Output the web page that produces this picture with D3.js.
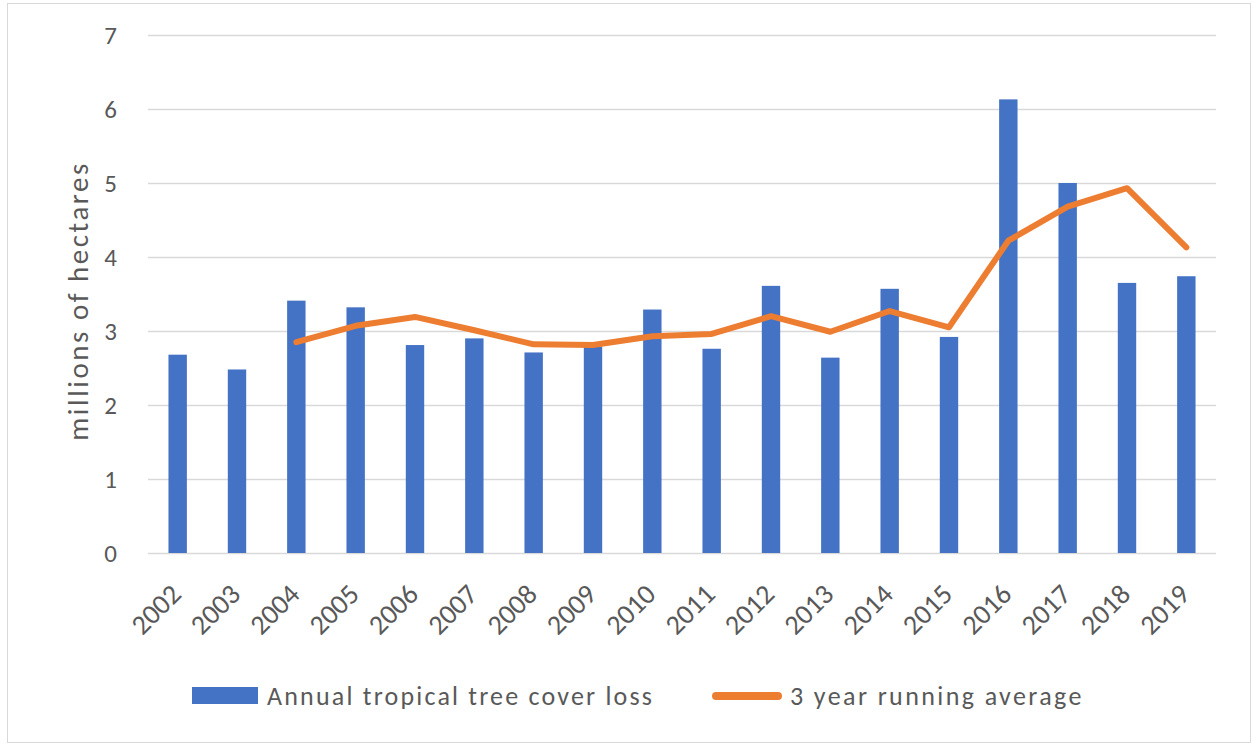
<!DOCTYPE html>
<html>
<head>
<meta charset="utf-8">
<script src="https://cdn.jsdelivr.net/npm/d3@7"></script>
<style>
  html, body { margin: 0; padding: 0; background: #ffffff; }
  svg { display: block; }
  text { font-family: Carlito, Calibri, Lato, "Open Sans", sans-serif; fill: #595959; }
</style>
</head>
<body>
<svg id="chart" width="1253" height="745"></svg>
<script>
const years = ["2002","2003","2004","2005","2006","2007","2008","2009","2010","2011","2012","2013","2014","2015","2016","2017","2018","2019"];
const annualLoss = [2.68, 2.48, 3.41, 3.32, 2.81, 2.90, 2.71, 2.79, 3.29, 2.76, 3.61, 2.64, 3.57, 2.92, 6.13, 5.00, 3.65, 3.74];
const runningAvg = [null, null, 2.85, 3.07, 3.19, 3.01, 2.82, 2.81, 2.93, 2.96, 3.20, 2.99, 3.27, 3.05, 4.22, 4.68, 4.93, 4.13];
const yTicks = [0, 1, 2, 3, 4, 5, 6, 7];
const seriesNames = ["Annual tropical tree cover loss", "3 year running average"];
const yTitle = "millions of hectares";

const svg = d3.select("#chart");
const m = { left: 148, right: 1216, top: 35, bottom: 553 };
const blue = "#4472C4", orange = "#ED7D31", grid = "#d9d9d9";

// outer chart border
svg.append("rect")
  .attr("x", 7.5).attr("y", 3.5).attr("width", 1243).attr("height", 739)
  .attr("fill", "#fff").attr("stroke", "#d9d9d9").attr("stroke-width", 1);

const x = d3.scaleBand().domain(years).range([m.left, m.right]).paddingInner(0.69).paddingOuter(0.345);
const y = d3.scaleLinear().domain([0, 7]).range([m.bottom, m.top]);

// gridlines + y labels
const yAxis = d3.axisLeft(y).tickValues(yTicks).tickSize(-(m.right - m.left)).tickPadding(31).tickFormat(d3.format("d"));
const gy = svg.append("g").attr("transform", `translate(${m.left},0)`).call(yAxis);
gy.select(".domain").remove();
gy.selectAll(".tick line").attr("stroke", grid).attr("stroke-width", 1.3);
gy.selectAll(".tick text").attr("font-size", 25).attr("fill", "#595959");

// bars
svg.append("g").selectAll("rect").data(annualLoss).join("rect")
  .attr("x", (d, i) => x(years[i]))
  .attr("y", d => y(d))
  .attr("width", x.bandwidth())
  .attr("height", d => y(0) - y(d))
  .attr("fill", blue);

// line
const pts = runningAvg.map((v, i) => [years[i], v]).filter(d => d[1] != null);
const line = d3.line().x(d => x(d[0]) + x.bandwidth() / 2).y(d => y(d[1]));
svg.append("path").datum(pts).attr("d", line)
  .attr("fill", "none").attr("stroke", orange).attr("stroke-width", 6)
  .attr("stroke-linejoin", "round").attr("stroke-linecap", "round");

// x labels
const xAxis = d3.axisBottom(x).tickSize(0).tickPadding(0);
const gx = svg.append("g").attr("transform", `translate(0,${m.bottom})`).call(xAxis);
gx.select(".domain").remove();
gx.selectAll(".tick text")
  .attr("font-size", 28)
  .attr("text-anchor", "end")
  .attr("dy", 0)
  .attr("transform", "translate(5,43) rotate(-45)");

// y title
svg.append("text")
  .attr("transform", "translate(88,301) rotate(-90)")
  .attr("text-anchor", "middle")
  .attr("font-size", 29)
  .attr("letter-spacing", 2.5)
  .text(yTitle);

// legend
const lg = svg.append("g");
lg.append("rect").attr("x", 192).attr("y", 687).attr("width", 66).attr("height", 17).attr("fill", blue);
lg.append("text").attr("x", 267).attr("y", 705).attr("font-size", 26).attr("letter-spacing", 2.2).text(seriesNames[0]);
lg.append("line").attr("x1", 716).attr("x2", 778).attr("y1", 696).attr("y2", 696)
  .attr("stroke", orange).attr("stroke-width", 8).attr("stroke-linecap", "round");
lg.append("text").attr("x", 790).attr("y", 705).attr("font-size", 26).attr("letter-spacing", 2.4).text(seriesNames[1]);
</script>
</body>
</html>
